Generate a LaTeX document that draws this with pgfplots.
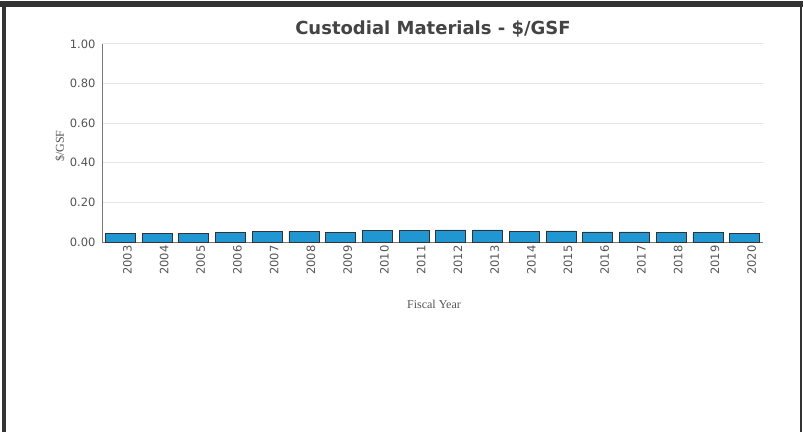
\documentclass[border=0pt]{standalone}
\usepackage{pgfplots}
\pgfplotsset{compat=1.18}
\usepackage{fontspec}
\setmainfont{DejaVu Sans}
\newfontfamily\seriffont{Liberation Serif}
\definecolor{barblue}{RGB}{32,150,211}
\definecolor{edgec}{RGB}{51,51,51}
\definecolor{gridc}{RGB}{230,230,230}
\definecolor{axc}{RGB}{120,120,120}
\definecolor{tickc}{RGB}{85,85,85}
\definecolor{titlec}{RGB}{68,68,68}
\begin{document}
\begin{tikzpicture}[x=1bp,y=1bp]
\fill[white] (0,0) rectangle (803,432);
\fill[edgec] (0,425) rectangle (803,430.5);
\fill[edgec] (1.7,0) rectangle (6,430.5);
\fill[edgec] (800,0) rectangle (802,430.5);
\begin{axis}[
  at={(102bp,190bp)}, anchor=south west,
  scale only axis, width=661bp, height=198bp,
  xmin=-0.5, xmax=17.5, ymin=0, ymax=1,
  axis lines*=left,
  axis line style={axc, line width=0.8bp},
  ymajorgrids, grid style={gridc, line width=1bp},
  major tick length=0pt,
  ytick={0,0.2,0.4,0.6,0.8,1.0},
  /pgf/number format/assume math mode=true,
  yticklabel={\pgfmathprintnumber[fixed,fixed zerofill,precision=2]{\tick}},
  yticklabel style={font=\fontsize{11.5bp}{13bp}\selectfont, text=tickc, xshift=-3bp},
  xtick=data,
  xticklabels={2003,2004,2005,2006,2007,2008,2009,2010,2011,2012,2013,2014,2015,2016,2017,2018,2019,2020},
  xticklabel style={font=\fontsize{11.5bp}{13bp}\selectfont, text=tickc, rotate=90, anchor=east, yshift=-7bp},
  ybar, bar width=30bp,
]
\addplot[fill=barblue, draw=edgec, line width=0.8bp] coordinates {
(0,0.041) (1,0.041) (2,0.041) (3,0.046) (4,0.055) (5,0.055) (6,0.046)
(7,0.059) (8,0.059) (9,0.061) (10,0.061) (11,0.055) (12,0.056)
(13,0.051) (14,0.051) (15,0.047) (16,0.047) (17,0.042)};
\end{axis}
\node[font=\bfseries\fontsize{18bp}{21bp}\selectfont, text=titlec, anchor=base] at (433,397) {Custodial Materials - \$/GSF};
\node[font=\seriffont\fontsize{12bp}{14bp}\selectfont, text=tickc, rotate=90] at (60,286) {\$/GSF};
\node[font=\seriffont\fontsize{12bp}{14bp}\selectfont, text=tickc] at (434,128) {Fiscal Year};
\end{tikzpicture}
\end{document}
